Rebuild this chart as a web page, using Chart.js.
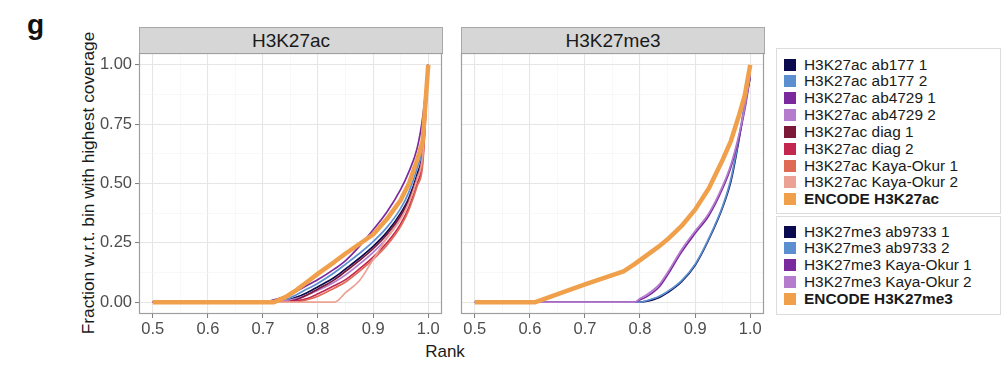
<!DOCTYPE html>
<html><head><meta charset="utf-8">
<script src="https://cdn.jsdelivr.net/npm/chart.js@4/dist/chart.umd.min.js"></script>
<style>
body{margin:0;background:#fff;width:1008px;height:382px;overflow:hidden;position:relative;font-family:"Liberation Sans",Arial,Helvetica,sans-serif;}
.abs{position:absolute;}
#g{left:27px;top:9px;font-size:28px;font-weight:bold;color:#111;}
#ytitle{left:88px;top:183px;transform:translate(-50%,-50%) rotate(-90deg);white-space:nowrap;font-size:17.3px;color:#1a1a1a;}
#xtitle{left:445px;top:352px;transform:translate(-50%,-50%);font-size:17px;color:#1a1a1a;}
.strip{background:#d6d6d6;border:1px solid #a8a8a8;border-bottom:1.5px solid #8c8c8c;box-sizing:border-box;text-align:center;font-size:19px;line-height:25px;color:#1a1a1a;}
.lbox{border:1px solid #dcdcdc;box-sizing:border-box;}
.row{position:absolute;left:7px;height:17px;display:flex;align-items:center;font-size:15.4px;color:#1a1a1a;white-space:nowrap;}
.sw{width:12px;height:12px;margin-right:8px;flex:none;}
</style></head><body>
<div class="abs" id="g">g</div>
<div class="abs" id="ytitle">Fraction w.r.t. bin with highest coverage</div>
<div class="abs" id="xtitle">Rank</div>
<div class="abs strip" id="s1" style="left:139px;top:27px;width:304px;height:27px"></div>
<div class="abs strip" id="s2" style="left:461px;top:27px;width:304px;height:27px"></div>
<canvas class="abs" id="c1" width="347" height="287" style="left:96px;top:53px"></canvas>
<canvas class="abs" id="c2" width="307" height="287" style="left:458px;top:53px"></canvas>
<div class="abs lbox" id="lb1" style="left:776px;top:48px;width:225px;height:166px"></div>
<div class="abs lbox" id="lb2" style="left:776px;top:216px;width:225px;height:99px"></div>
<script>
// ---------- data ----------
const panelNames = ['H3K27ac', 'H3K27me3'];
const rankTickLabels = ['0.5', '0.6', '0.7', '0.8', '0.9', '1.0'];
const fracTickLabels = ['0.00', '0.25', '0.50', '0.75', '1.00'];

// H3K27ac panel
const rankAc = [0.5, 0.7, 0.72, 0.74, 0.76, 0.78, 0.8, 0.83, 0.85, 0.875, 0.9, 0.925, 0.95, 0.965, 0.98, 0.99, 1.0];
const acAb177_1   = [0, 0, 0, 0.005, 0.02, 0.04, 0.065, 0.105, 0.14, 0.185, 0.235, 0.295, 0.375, 0.44, 0.54, 0.64, 1.0];
const acAb177_2   = [0, 0, 0, 0.01, 0.03, 0.055, 0.08, 0.125, 0.16, 0.205, 0.255, 0.315, 0.395, 0.465, 0.565, 0.665, 1.0];
const acAb4729_1  = [0, 0, 0.01, 0.025, 0.045, 0.07, 0.095, 0.14, 0.175, 0.235, 0.305, 0.38, 0.475, 0.55, 0.65, 0.78, 1.0];
const acAb4729_2  = [0, 0, 0, 0.005, 0.015, 0.03, 0.05, 0.085, 0.115, 0.16, 0.21, 0.27, 0.355, 0.425, 0.525, 0.625, 1.0];
const acDiag_1    = [0, 0, 0, 0, 0.01, 0.03, 0.055, 0.095, 0.13, 0.175, 0.225, 0.285, 0.365, 0.43, 0.525, 0.62, 1.0];
const acDiag_2    = [0, 0, 0, 0, 0.005, 0.015, 0.035, 0.07, 0.095, 0.14, 0.19, 0.25, 0.33, 0.4, 0.5, 0.6, 1.0];
const acKaya_1    = [0, 0, 0, 0, 0, 0.01, 0.025, 0.06, 0.085, 0.13, 0.18, 0.24, 0.32, 0.39, 0.49, 0.58, 1.0];
const acKaya_2    = [0, 0, 0, 0, 0, 0, 0, 0, 0.04, 0.09, 0.18, 0.27, 0.35, 0.42, 0.52, 0.62, 1.0];
const acEncode    = [0, 0, 0, 0.02, 0.05, 0.085, 0.12, 0.17, 0.205, 0.245, 0.285, 0.35, 0.43, 0.5, 0.6, 0.68, 1.0];

// H3K27me3 panel
const rankMe3 = [0.5, 0.61, 0.7, 0.77, 0.79, 0.8, 0.81, 0.835, 0.85, 0.875, 0.9, 0.925, 0.95, 0.965, 0.98, 0.99, 1.0];
const me3Ab9733_1 = [0, 0, 0, 0, 0, 0, 0.003, 0.02, 0.04, 0.085, 0.155, 0.265, 0.4, 0.51, 0.69, 0.83, 0.95];
const me3Ab9733_2 = [0, 0, 0, 0, 0, 0, 0.005, 0.025, 0.045, 0.09, 0.16, 0.27, 0.405, 0.52, 0.7, 0.84, 0.96];
const me3Kaya_1   = [0, 0, 0, 0, 0, 0.01, 0.02, 0.065, 0.115, 0.21, 0.29, 0.365, 0.48, 0.57, 0.7, 0.81, 0.95];
const me3Kaya_2   = [0, 0, 0, 0, 0, 0.015, 0.028, 0.075, 0.125, 0.22, 0.3, 0.375, 0.49, 0.58, 0.71, 0.82, 0.96];
const me3Encode   = [0, 0, 0.075, 0.13, 0.16, 0.177, 0.194, 0.236, 0.265, 0.32, 0.39, 0.48, 0.6, 0.68, 0.79, 0.87, 1.0];

const acLabels = ['H3K27ac ab177 1', 'H3K27ac ab177 2', 'H3K27ac ab4729 1', 'H3K27ac ab4729 2',
  'H3K27ac diag 1', 'H3K27ac diag 2', 'H3K27ac Kaya-Okur 1', 'H3K27ac Kaya-Okur 2', 'ENCODE H3K27ac'];
const acColors = ['#0c0a4f', '#5b8fd0', '#7b2a9e', '#b57ccd', '#7c1838', '#c3264f', '#df6a55', '#eca195', '#f0a04b'];
const acSeries = [acAb177_1, acAb177_2, acAb4729_1, acAb4729_2, acDiag_1, acDiag_2, acKaya_1, acKaya_2, acEncode];

const me3Labels = ['H3K27me3 ab9733 1', 'H3K27me3 ab9733 2', 'H3K27me3 Kaya-Okur 1', 'H3K27me3 Kaya-Okur 2', 'ENCODE H3K27me3'];
const me3Colors = ['#0c0a4f', '#5b8fd0', '#7b2a9e', '#b57ccd', '#f0a04b'];
const me3Series = [me3Ab9733_1, me3Ab9733_2, me3Kaya_1, me3Kaya_2, me3Encode];

// ---------- page text ----------
document.getElementById('s1').textContent = panelNames[0];
document.getElementById('s2').textContent = panelNames[1];

function buildLegend(id, labels, colors, top0) {
  const box = document.getElementById(id);
  labels.forEach((lab, i) => {
    const r = document.createElement('div');
    r.className = 'row';
    r.style.top = (top0 + i * 16.85) + 'px';
    const sw = document.createElement('span');
    sw.className = 'sw'; sw.style.background = colors[i];
    const t = document.createElement('span');
    t.textContent = lab;
    if (lab.startsWith('ENCODE')) t.style.fontWeight = 'bold';
    r.appendChild(sw); r.appendChild(t);
    box.appendChild(r);
  });
}
buildLegend('lb1', acLabels, acColors, 7);
buildLegend('lb2', me3Labels, me3Colors, 6);

// ---------- charts ----------
const xMajor = rankTickLabels.map(parseFloat);
const yMajor = fracTickLabels.map(parseFloat);
function withMinor(arr) {
  const out = [];
  arr.forEach((v, i) => { out.push(v); if (i < arr.length - 1) out.push((v + arr[i + 1]) / 2); });
  return out;
}
const xTicks = withMinor(xMajor), yTicks = withMinor(yMajor);

const borderPlugin = {
  id: 'panelBorder',
  afterDraw(chart) {
    const a = chart.chartArea, c = chart.ctx;
    c.save(); c.strokeStyle = '#9e9e9e'; c.lineWidth = 1.2;
    c.strokeRect(a.left + 0.5, a.top + 0.5, a.right - a.left - 1, a.bottom - a.top - 1);
    c.restore();
  }
};

function makeChart(id, ranks, series, labels, colors, showY) {
  const n = series.length;
  const datasets = series.map((vals, i) => {
    const enc = labels[i].startsWith('ENCODE');
    return {
      label: labels[i],
      data: ranks.map((r, j) => ({ x: r, y: vals[j] })),
      borderColor: colors[i],
      borderWidth: enc ? 4.5 : 1.7,
      pointRadius: 0,
      tension: 0,
      cubicInterpolationMode: enc ? 'default' : 'monotone',
      order: n - i,
      borderCapStyle: 'butt',
      borderJoinStyle: 'round'
    };
  });
  const gridColor = ctx => (ctx.index % 2 === 0 ? '#e6e6e6' : '#f3f3f3');
  const gridWidth = ctx => (ctx.index % 2 === 0 ? 1.1 : 0.6);
  const tickColor = ctx => (ctx.index % 2 === 0 ? '#7a7a7a' : 'rgba(0,0,0,0)');
  return new Chart(document.getElementById(id), {
    type: 'line',
    data: { datasets },
    plugins: [borderPlugin],
    options: {
      responsive: false, animation: false, events: [],
      layout: { padding: { top: 0, right: 1, left: 0, bottom: 0 } },
      plugins: { legend: { display: false }, tooltip: { enabled: false } },
      scales: {
        x: {
          type: 'linear', min: 0.475, max: 1.025,
          afterBuildTicks: s => { s.ticks = xTicks.map(v => ({ value: v })); },
          afterFit: s => { s.height = 26; s.paddingLeft = 0; s.paddingRight = 0; },
          ticks: {
            autoSkip: false, maxRotation: 0, padding: 2, color: '#4d4d4d',
            font: { family: '"Liberation Sans", Arial, sans-serif', size: 16.5 },
            callback: (v, i) => (i % 2 === 0 ? rankTickLabels[i / 2] : '')
          },
          grid: { color: gridColor, lineWidth: gridWidth, tickColor: tickColor, tickLength: 4, tickWidth: 1 },
          border: { display: false }
        },
        y: {
          type: 'linear', min: -0.05, max: 1.05,
          afterBuildTicks: s => { s.ticks = yTicks.map(v => ({ value: v })); },
          afterFit: s => { s.width = showY ? 43 : 3; s.paddingTop = 0; s.paddingBottom = 0; },
          ticks: {
            display: showY, autoSkip: false, padding: 3, color: '#4d4d4d',
            font: { family: '"Liberation Sans", Arial, sans-serif', size: 16.5 },
            callback: (v, i) => (i % 2 === 0 ? fracTickLabels[i / 2] : '')
          },
          grid: { color: gridColor, lineWidth: gridWidth, tickColor: tickColor, tickLength: 4, tickWidth: 1, drawTicks: showY },
          border: { display: false }
        }
      }
    }
  });
}
makeChart('c1', rankAc, acSeries, acLabels, acColors, true);
makeChart('c2', rankMe3, me3Series, me3Labels, me3Colors, false);
</script>
</body></html>
